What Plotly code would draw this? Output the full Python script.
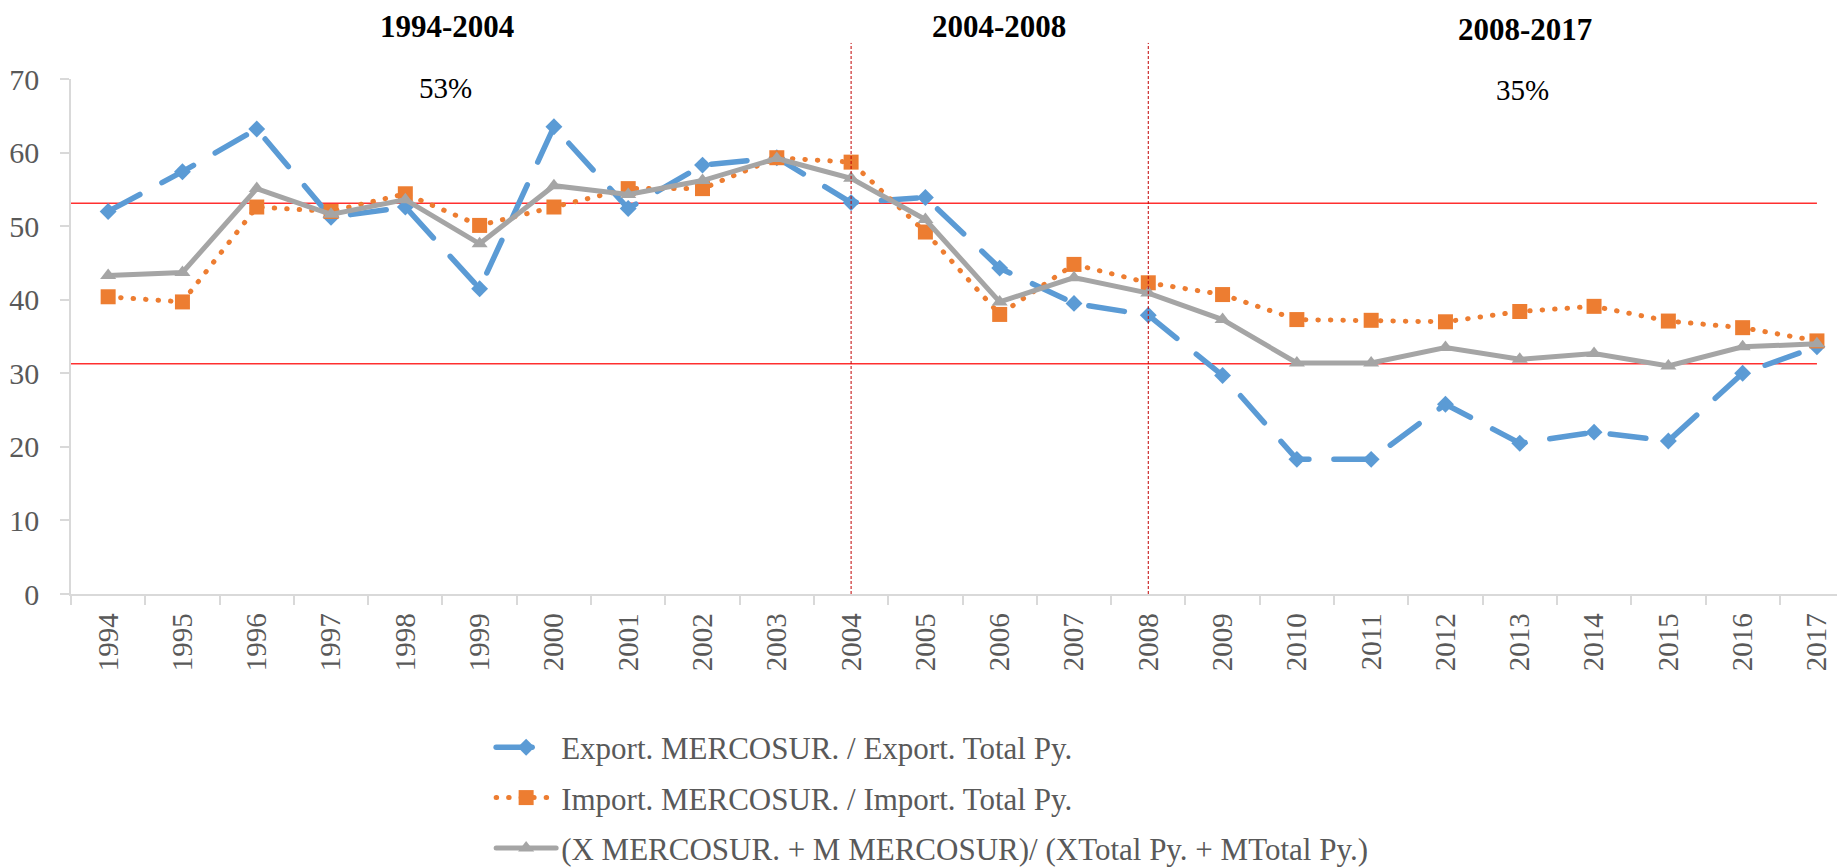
import plotly.graph_objects as go

years = [str(y) for y in range(1994, 2018)]

export_share = [52.0, 57.4, 63.2, 51.2, 52.6, 41.5, 63.5, 52.4, 58.3, 59.3, 53.2, 53.9,
                44.3, 39.5, 37.9, 29.7, 18.3, 18.3, 25.8, 20.5, 22.0, 20.8, 30.0, 33.6]
import_share = [40.4, 39.7, 52.6, 52.0, 54.4, 50.1, 52.6, 55.1, 55.1, 59.3, 58.7, 49.2,
                38.0, 44.8, 42.3, 40.7, 37.3, 37.2, 37.0, 38.4, 39.1, 37.1, 36.2, 34.4]
total_share = [43.3, 43.7, 55.1, 51.6, 53.6, 47.6, 55.5, 54.3, 56.2, 59.2, 56.5, 50.9,
               39.7, 43.0, 40.9, 37.3, 31.4, 31.4, 33.5, 31.9, 32.7, 31.0, 33.6, 34.0]

series_names = [
    "Export. MERCOSUR. / Export. Total Py.",
    "Import. MERCOSUR. / Import. Total Py.",
    "(X MERCOSUR. + M MERCOSUR)/ (XTotal Py. + MTotal Py.)",
]
ref_levels = [53.1, 31.3]
period_breaks = ["2004", "2008"]
period_labels = ["1994-2004", "2004-2008", "2008-2017"]
period_values = ["53%", "35%"]

FONT = "Liberation Serif"

fig = go.Figure()
fig.add_trace(go.Scatter(
    x=years, y=export_share, name=series_names[0], mode="lines+markers",
    line=dict(color="#5B9BD5", width=5.5, dash="36px,25px"),
    marker=dict(symbol="diamond", size=13, color="#5B9BD5"),
    legendgroup="a",
))
fig.add_trace(go.Scatter(
    x=years, y=import_share, name=series_names[1], mode="lines+markers",
    line=dict(color="#ED7D31", width=5, dash="0.5px,12px"),
    marker=dict(symbol="square", size=15, color="#ED7D31"),
    legendgroup="b",
))
fig.add_trace(go.Scatter(
    x=years, y=total_share, name=series_names[2], mode="lines+markers",
    line=dict(color="#A5A5A5", width=5),
    marker=dict(symbol="triangle-up", size=14, color="#A5A5A5"),
    legendgroup="c",
))

shapes = []
for lv in ref_levels:
    shapes.append(dict(type="line", xref="x", yref="y", x0=-0.5, x1=len(years) - 1,
                       y0=lv, y1=lv, line=dict(color="#FF3030", width=1.5), layer="below"))
for b in period_breaks:
    idx = years.index(b)
    shapes.append(dict(type="line", xref="x", yref="paper", x0=idx, x1=idx,
                       y0=0, y1=1.07, line=dict(color="#C00000", width=1, dash="3px,2px")))

annotations = []
label_pos = [(0.2127, 1.102), (0.5253, 1.101), (0.8231, 1.097)]
for txt, (px, py) in zip(period_labels, label_pos):
    annotations.append(dict(text="<b>%s</b>" % txt, xref="paper", yref="paper", x=px, y=py,
                            xanchor="center", yanchor="middle", showarrow=False,
                            font=dict(family=FONT, size=31, color="black")))
value_pos = [(0.2118, 0.983), (0.8221, 0.979)]
for txt, (px, py) in zip(period_values, value_pos):
    annotations.append(dict(text=txt, xref="paper", yref="paper", x=px, y=py,
                            xanchor="center", yanchor="middle", showarrow=False,
                            font=dict(family=FONT, size=29, color="black")))

fig.update_layout(
    width=1837, height=868,
    margin=dict(l=71, r=0, t=79, b=274, autoexpand=False),
    paper_bgcolor="white", plot_bgcolor="white",
    font=dict(family=FONT, size=29, color="#595959"),
    shapes=shapes, annotations=annotations,
    showlegend=True,
    legend=dict(x=0.2379, y=-0.2459, xanchor="left", yanchor="top", orientation="v",
                font=dict(family=FONT, size=31, color="#595959"),
                tracegroupgap=7, bgcolor="rgba(0,0,0,0)", itemwidth=60),
    xaxis=dict(type="category", range=[-0.5, 23.27], showgrid=False,
               showline=True, linecolor="#D9D9D9", linewidth=1.5,
               ticks="outside", tickson="boundaries", ticklen=9, tickcolor="#D9D9D9",
               tickwidth=1.5, tickangle=-90, ticklabelstandoff=6,
               tickfont=dict(family=FONT, size=29, color="#595959"),
               zeroline=False),
    yaxis=dict(range=[0, 70], dtick=10, showgrid=False, showline=True,
               linecolor="#D9D9D9", linewidth=1.5, ticks="outside", ticklen=9,
               tickcolor="#D9D9D9", tickwidth=1.5, zeroline=False, ticklabelstandoff=15,
               tickfont=dict(family=FONT, size=30, color="#595959")),
)

post = (
    "document.body.style.margin='0';document.body.style.overflow='hidden';"
    "document.head.insertAdjacentHTML('beforeend',"
    "'<style>.scatterlayer .js-line, .legend .js-line{stroke-linecap:round;}</style>');"
)
fig.write_html("out.html", post_script=post, config={"displayModeBar": False})
